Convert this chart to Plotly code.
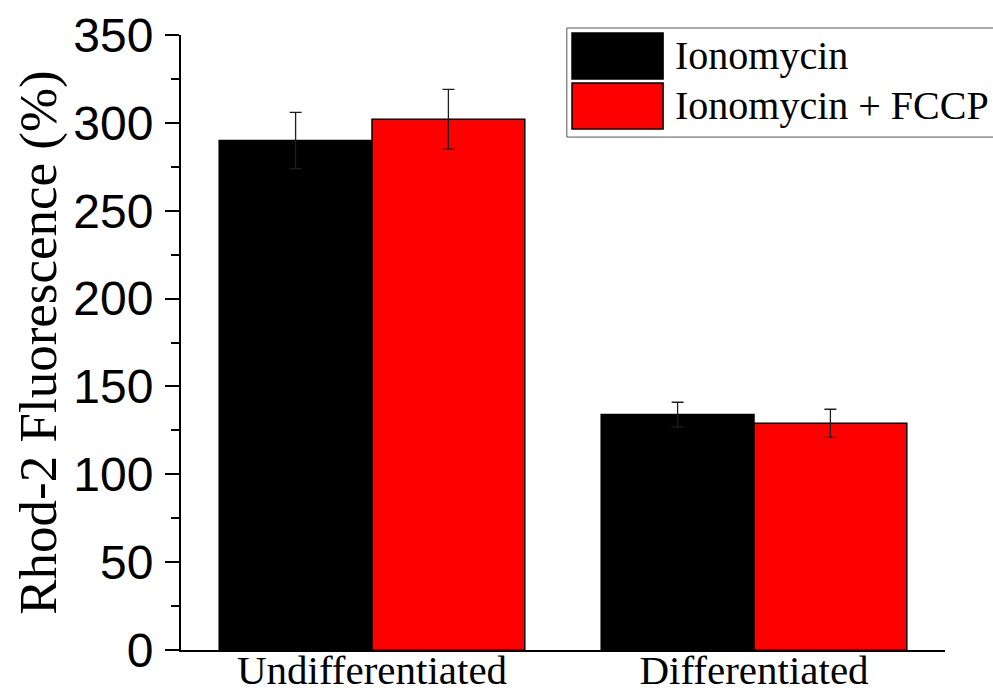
import plotly.graph_objects as go

# Mitochondrial Ca2+ (Rhod-2) response by cell state
categories = ["Undifferentiated", "Differentiated"]
iono_mean = [290, 134]
iono_err = [16, 7]
fccp_mean = [302, 129]
fccp_err = [17, 8]
series_names = ["Ionomycin", "Ionomycin + FCCP"]
series_colors = ["#000000", "#ff0000"]

serif = "Liberation Serif"
sans = "Liberation Sans"

fig = go.Figure()
for name, vals, errs, col in zip(series_names, [iono_mean, fccp_mean],
                                 [iono_err, fccp_err], series_colors):
    fig.add_trace(go.Bar(
        x=categories, y=vals, name=name,
        marker=dict(color=col, line=dict(color="#000000", width=1.5)),
        error_y=dict(type="data", array=errs, visible=True,
                     color="#1e1e1e", thickness=1.3, width=6),
        showlegend=False,
    ))

# Framed key with large colour swatches
fig.add_shape(type="rect", xref="paper", yref="paper",
              x0=0.505, x1=1.08, y0=0.834, y1=1.0114,
              line=dict(color="#555555", width=1), fillcolor="white",
              layer="above")
swatch_y = [(0.9285, 1.0033), (0.8472, 0.922)]
text_y = [0.966, 0.8846]
for name, col, (y0, y1), ty in zip(series_names, series_colors, swatch_y, text_y):
    fig.add_shape(type="rect", xref="paper", yref="paper",
                  x0=0.5118, x1=0.631, y0=y0, y1=y1,
                  fillcolor=col, line=dict(color="#000000", width=1.5),
                  layer="above")
    fig.add_annotation(xref="paper", yref="paper", x=0.644, y=ty,
                       text=name, showarrow=False, xanchor="left",
                       yanchor="middle",
                       font=dict(family=serif, size=40, color="black"))

fig.update_layout(
    width=993, height=690,
    margin=dict(l=181, r=48, t=35, b=40),
    paper_bgcolor="white", plot_bgcolor="white",
    barmode="group", bargap=0.2, bargroupgap=0,
)
fig.update_xaxes(
    range=[-0.5, 1.5], showline=True, linecolor="black", linewidth=2,
    ticks="", showgrid=False, zeroline=False, automargin=False,
    ticklabelstandoff=-17,
    tickfont=dict(family=serif, size=41, color="black"),
)
fig.update_yaxes(
    range=[0, 350], tickvals=[0, 50, 100, 150, 200, 250, 300, 350],
    showline=True, linecolor="black", linewidth=2,
    ticks="outside", ticklen=14, tickwidth=2, tickcolor="black",
    minor=dict(tickvals=[25, 75, 125, 175, 225, 275, 325], ticks="outside",
               ticklen=8, tickwidth=2, tickcolor="black", showgrid=False),
    showgrid=False, zeroline=False, automargin=False,
    ticklabelstandoff=2,
    tickfont=dict(family=sans, size=48, color="black"),
    title=dict(text="Rhod-2 Fluorescence (%)", standoff=0,
               font=dict(family=serif, size=53, color="black")),
)

fig.write_html("out.html")
